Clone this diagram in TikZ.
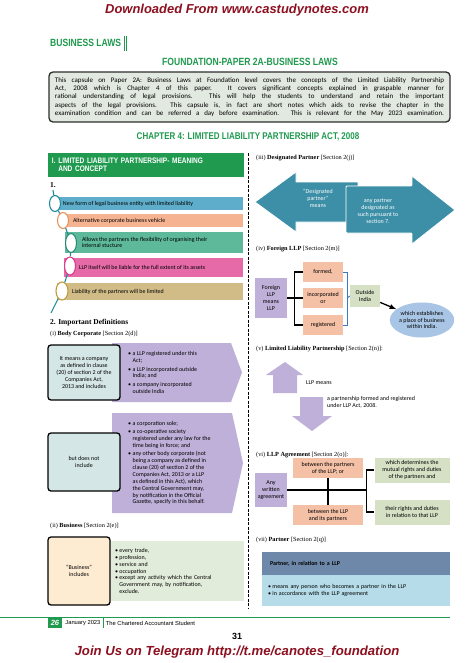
\documentclass[tikz,border=0pt]{standalone}
\usepackage{fontspec}
\setmainfont{Carlito}
\newfontfamily\headfont[FakeStretch=0.82]{Liberation Sans}
\newfontfamily\arialfont{Liberation Sans}
\newfontfamily\labfont{Liberation Serif}
\usetikzlibrary{arrows,shapes,positioning}
\definecolor{pagegreen}{HTML}{1F9A4E}
\definecolor{darkred}{HTML}{8C1020}
\definecolor{introfill}{HTML}{E2E9E0}
\definecolor{introline}{HTML}{2F2F2F}
\definecolor{barblue}{HTML}{5EAECB}
\definecolor{barsalmon}{HTML}{F5B391}
\definecolor{bargreen}{HTML}{5DB99A}
\definecolor{barpink}{HTML}{E66AA8}
\definecolor{barkhaki}{HTML}{D1BC88}
\definecolor{ringteal}{HTML}{1F8A9C}
\definecolor{ringorange}{HTML}{E9935A}
\definecolor{ringgreen}{HTML}{2B8C78}
\definecolor{ringpink}{HTML}{D93A8A}
\definecolor{ringgold}{HTML}{BF9B3A}
\definecolor{lilac}{HTML}{BEB0D8}
\definecolor{tealbox}{HTML}{D5E6E6}
\definecolor{beige}{HTML}{FDEBD2}
\definecolor{bizgreen}{HTML}{E2ECDA}
\definecolor{dpteal}{HTML}{3C8FA7}
\definecolor{salmon}{HTML}{F4C0A6}
\definecolor{sage}{HTML}{D5E0C5}
\definecolor{ellblue}{HTML}{A8C5E5}
\definecolor{braceblue}{HTML}{3A7CC0}
\definecolor{ptrhead}{HTML}{6E88AA}
\definecolor{ptrbody}{HTML}{B5DCE8}
\newcommand{\itm}{\textbullet\kern1.5bp}
\newcommand{\hng}{\phantom{\textbullet\kern1.5bp}}

\begin{document}
\begin{tikzpicture}[>=latex, x=1bp, y=-1bp]
      \tikzstyle{every node}=[font=\fontsize{6}{6.9}\selectfont, inner sep=1bp]
      \tikzstyle{lab}=[anchor=west, font=\labfont\fontsize{6.3}{7}\selectfont]
      \tikzstyle{head}=[font=\headfont\bfseries\fontsize{10.5}{12}\selectfont, text=pagegreen]
      \tikzstyle{bar}=[inner sep=0pt]
      \tikzstyle{ring}=[ellipse, minimum width=11bp, minimum height=16bp, fill=white, line width=1.1bp, inner sep=0pt]
      \tikzstyle{framed}=[draw=black, line width=1.3bp, rounded corners=3bp, inner sep=0pt, align=center]
      \tikzstyle{flat}=[inner sep=0pt, align=center]
      \tikzstyle{tree}=[line width=1.2bp]
      \tikzstyle{list}=[anchor=west, align=left, inner sep=0pt]
      %%
  \fill[white] (0,0) rectangle (474,663);
  \useasboundingbox (0,0) rectangle (474,663);
\node (dl_head) at (237,10) [font=\arialfont\bfseries\itshape\fontsize{13}{15}\selectfont, text=darkred] {Downloaded From www.castudynotes.com};
  \node (biz_laws) at (49,43) [head, anchor=west] {BUSINESS LAWS};
  \node (paper_head) at (250,62) [head] {FOUNDATION-PAPER 2A-BUSINESS LAWS};
  \node (intro) at (249.5,97) [draw=introline, fill=introfill, line width=1.3bp, rounded corners=4bp, text width=389bp, inner xsep=6bp, inner ysep=3bp, minimum height=50bp, align=justify, font=\fontsize{7}{8.3}\selectfont] {\parfillskip=0pt This capsule on Paper 2A: Business Laws at Foundation level covers the concepts of the Limited Liability Partnership\linebreak Act, 2008 which is Chapter 4 of this paper. It covers significant concepts explained in graspable manner for\linebreak rational understanding of legal provisions. This will help the students to understand and retain the important\linebreak aspects of the legal provisions. This capsule is, in fact are short notes which aids to revise the chapter in the\linebreak examination condition and can be referred a day before examination. This is relevant for the May 2023 examination.\par};
  \node (chap_head) at (248,137) [head, font=\headfont\bfseries\fontsize{9.8}{11}\selectfont] {CHAPTER 4: LIMITED LIABILITY PARTNERSHIP ACT, 2008};
  \draw[pagegreen, line width=1bp] (biz_laws.east) ++(2,-7) -- ++(0,15) ++(2.5,0) -- ++(0,-15);
  \draw[line width=0.9bp, dash pattern=on 3bp off 1.5bp] (248,153) -- (248,608);
%
  \node (mean_head) at (146,165) [fill=pagegreen, minimum width=196bp, minimum height=24bp, text width=188bp, inner sep=0pt, align=left, text=white, font=\headfont\bfseries\fontsize{8}{8.4}\selectfont] {I.~LIMITED LIABILITY PARTNERSHIP- MEANING\\\phantom{I.~}AND CONCEPT};
  \node (one) at (49,185) [lab, font=\labfont\bfseries\fontsize{7.5}{8}\selectfont] {1.};
  \node (bar_a) at (149,203.5) [bar, fill=barblue, minimum width=188bp, minimum height=13bp] {};
  \node (bar_b) at (151.5,220.5) [bar, fill=barsalmon, minimum width=183bp, minimum height=13bp] {};
  \node (bar_c) at (154,242.5) [bar, fill=bargreen, minimum width=178bp, minimum height=21bp] {};
  \node (bar_d) at (153.5,267.5) [bar, fill=barpink, minimum width=179bp, minimum height=19bp] {};
  \node (bar_e) at (150,291.5) [bar, fill=barkhaki, minimum width=186bp, minimum height=17bp] {};
  \node (txt_a) [right=7bp of bar_a.west] {New form of legal business entity with limited liability};
  \node (txt_b) [right=12bp of bar_b.west] {Alternative corporate business vehicle};
  \node (txt_c) [right=16bp of bar_c.west, align=left] {Allows the partners the flexibility of organising their\\internal stucture};
  \node (txt_d) [right=14bp of bar_d.west] {LLP itself will be liable for the full extent of its assets};
  \node (txt_e) [right=14bp of bar_e.west] {Liability of the partners will be limited};
  \node (ring_a) at (55,203.5) [ring, draw=ringteal] {};
  \node (ring_b) at (63,220.5) [ring, draw=ringorange] {};
  \node (ring_c) at (71,243) [ring, draw=ringgreen, minimum height=19bp] {};
  \node (ring_d) at (70,266) [ring, draw=ringpink, minimum height=18bp] {};
  \node (ring_e) at (62,291) [ring, draw=ringgold, minimum height=18bp, minimum width=12bp] {};
  \coordinate (ring_top) at (53,190);
  \coordinate (ring_end) at (51,313);
  \draw [ringteal, line width=1.1bp] (ring_top) -- (ring_a) -- (ring_b) -- (ring_c) -- (ring_d) -- (ring_e) -- (ring_end);
%
  \node (two) at (49,323) [lab, font=\labfont\bfseries\fontsize{7.5}{8}\selectfont] {2. Important Definitions};
  \node (bc_lab) at (49,334) [lab] {(i) \textbf{Body Corporate} [Section 2(d)]};
  \fill[lilac] (112,343) -- (231,343) -- (242,372.5) -- (231,402) -- (112,402) -- cycle;
  \node (bc_means) at (84,372.5) [framed, fill=tealbox, minimum width=72bp, minimum height=55bp] {It means a company\\as defined in clause\\(20) of section 2 of the\\Companies Act,\\2013 and includes};
  \node (bc_incl) at (128,372.5) [list] {\itm a LLP registered under this\\\hng Act;\\[1.5pt]\itm a LLP incorporated outside\\\hng India; and\\[1.5pt]\itm a company incorporated\\\hng outside India};
  \fill[lilac] (112,413) -- (232,413) -- (243,463) -- (232,513) -- (112,513) -- cycle;
  \node (bc_excl) at (84,462) [framed, fill=tealbox, minimum width=72bp, minimum height=58bp] {but does not\\include};
  \node (bc_list) at (128,463) [list] {\itm a corporation sole;\\[1.5pt]\itm a co-operative society\\\hng registered under any law for the\\\hng time being in force; and\\[1.5pt]\itm any other body corporate (not\\\hng being a company as defined in\\\hng clause (20) of section 2 of the\\\hng Companies Act, 2013 or a LLP\\\hng as defined in this Act), which\\\hng the Central Government may,\\\hng by notification in the Official\\\hng Gazette, specify in this behalf.};
  \node (biz_lab) at (49,526) [lab] {(ii) \textbf{Business} [Section 2(e)]};
  \node (biz_list) at (177.5,571) [fill=bizgreen, minimum height=60bp, text width=125bp, inner xsep=4bp, align=left] {\itm every trade,\\\itm profession,\\\itm service and\\\itm occupation\\\itm except any activity which the Central\\\hng Government may, by notification,\\\hng exclude.};
  \node (biz_incl) at (79,571) [framed, fill=beige, minimum width=62bp, minimum height=68bp] {``Business''\\includes};
%
  \node (dp_lab) at (255,158) [lab] {(iii) \textbf{Designated Partner} [Section 2(j)]};
  \fill[dpteal, draw=white, line width=0.8bp] (255,202) -- (296,172) -- (296,182) -- (358,182) -- (358,222) -- (296,222) -- (296,232) -- cycle;
  \fill[dpteal, draw=white, line width=0.8bp, rounded corners=1bp] (346,186) -- (412,186) -- (412,176) -- (455,210) -- (412,244) -- (412,233) -- (346,233) -- cycle;
  \node (dp_term) at (318,198) [flat, text=white] {``Designated\\partner''\\means};
  \node (dp_def) at (378,211) [flat, text=white] {any partner\\designated as\\such pursuant to\\section 7.};
%
  \node (fl_lab) at (255,249) [lab] {(iv) \textbf{Foreign LLP} [Section 2(m)]};
  \node (fl_means) at (271,298) [flat, fill=lilac, minimum width=32bp, minimum height=40bp] {Foreign\\LLP\\means\\LLP};
  \node (f_formed) at (323,272) [flat, fill=salmon, minimum width=40bp, minimum height=20bp] {formed,};
  \node (f_incorp) at (323,298) [flat, fill=salmon, minimum width=40bp, minimum height=20bp] {incorporated\\or};
  \node (f_regd) at (323,325) [flat, fill=salmon, minimum width=40bp, minimum height=20bp] {registered};
  \node (out_india) at (365,296) [flat, fill=sage, minimum width=30bp, minimum height=22bp] {Outside\\India};
  \node (est_ell) at (422,320) [ellipse, fill=ellblue, minimum width=62bp, minimum height=35bp, inner sep=0pt, align=center] {which establishes\\a place of business\\within India.};
  \draw [tree] (fl_means) -- (f_incorp);
  \draw [tree] (f_formed.west) -- ++(-8,0) |- (f_regd.west);
  \draw [braceblue, line width=1bp] (f_formed.east) -- ++(4,0) |- (f_regd.east);
  \draw [braceblue, line width=1bp] (f_incorp.east) ++(4,0) -- (out_india.west);
  \draw [->, line width=1.3bp] (out_india) -- (est_ell);
%
  \node (llp_lab) at (255,349) [lab] {(v) \textbf{Limited Liability Partnership} [Section 2(n)]:};
  \fill[lilac] (285,362) -- (303,375) -- (297,375) -- (297,393) -- (273,393) -- (273,375) -- (266,375) -- cycle;
  \fill[lilac] (300,397) -- (323,397) -- (323,416) -- (332,416) -- (312,431) -- (292,416) -- (300,416) -- cycle;
  \node (llp_means) at (305,383) [anchor=west] {LLP means};
  \node (llp_def) at (327,402) [list] {a partnership formed and registered\\under LLP Act, 2008.};
%
  \node (agr_lab) at (255,455) [lab] {(vi) \textbf{LLP Agreement} [Section 2(o)]:};
  \node (agr_any) at (271,490) [flat, fill=lilac, minimum width=32bp, minimum height=34bp] {Any\\written\\agreement};
  \node (agr_pp) at (328,468) [flat, fill=salmon, minimum width=70bp, minimum height=20bp] {between the partners\\of the LLP; or};
  \node (agr_lp) at (328,515) [flat, fill=salmon, minimum width=70bp, minimum height=20bp] {between the LLP\\and its partners};
  \node (agr_mut) at (412,470) [flat, fill=sage, minimum width=75bp, minimum height=25bp] {which determines the\\mutual rights and duties\\of the partners and};
  \node (agr_rel) at (412,512) [flat, fill=sage, minimum width=75bp, minimum height=25bp] {their rights and duties\\in relation to that LLP};
  \coordinate (agr_join) at (366.5,490);
  \draw [tree] (agr_any) -- (agr_join);
  \draw [tree] (agr_pp) -- (agr_lp);
  \draw [tree] (agr_mut.west) -- ++(-8,0) |- (agr_rel.west);
%
  \node (ptr_lab) at (255,540) [lab] {(vii) \textbf{Partner} [Section 2(q)]};
  \node (ptr_head) at (356,563.5) [fill=ptrhead, minimum height=23bp, text width=172bp, inner xsep=8bp, align=left, font=\bfseries\fontsize{6}{6.9}\selectfont] {Partner, in relation to a LLP};
  \node (ptr_body) at (356,590.5) [fill=ptrbody, minimum height=31bp, text width=176bp, inner xsep=6bp, align=left] {\itm means any person who becomes a partner in the LLP\\\itm in accordance with the LLP agreement};
%
  \draw[pagegreen, line width=1bp] (0,617) -- (450,617);
  \node (pg_num) at (55,623) [fill=pagegreen, text=white, font=\arialfont\bfseries\itshape\fontsize{7.5}{8}\selectfont, minimum width=14bp, minimum height=10bp, inner sep=0pt] {26};
  \node (pg_date) [right=2bp of pg_num, font=\arialfont\fontsize{5.8}{6}\selectfont] {January 2023};
  \node (pg_mag) [right=3bp of pg_date, font=\arialfont\fontsize{5.8}{6}\selectfont] {The Chartered Accountant Student};
  \draw[pagegreen, line width=1.2bp] (pg_date.east) ++(1.5,-5) -- ++(0,10);
  \node (pg_31) at (237,636) [font=\arialfont\bfseries\fontsize{9}{10}\selectfont] {31};
  \node (tg_foot) at (237,652) [font=\arialfont\bfseries\itshape\fontsize{13.2}{15}\selectfont, text=darkred] {Join Us on Telegram http://t.me/canotes\_foundation};
%
    \end{tikzpicture}
\end{document}
